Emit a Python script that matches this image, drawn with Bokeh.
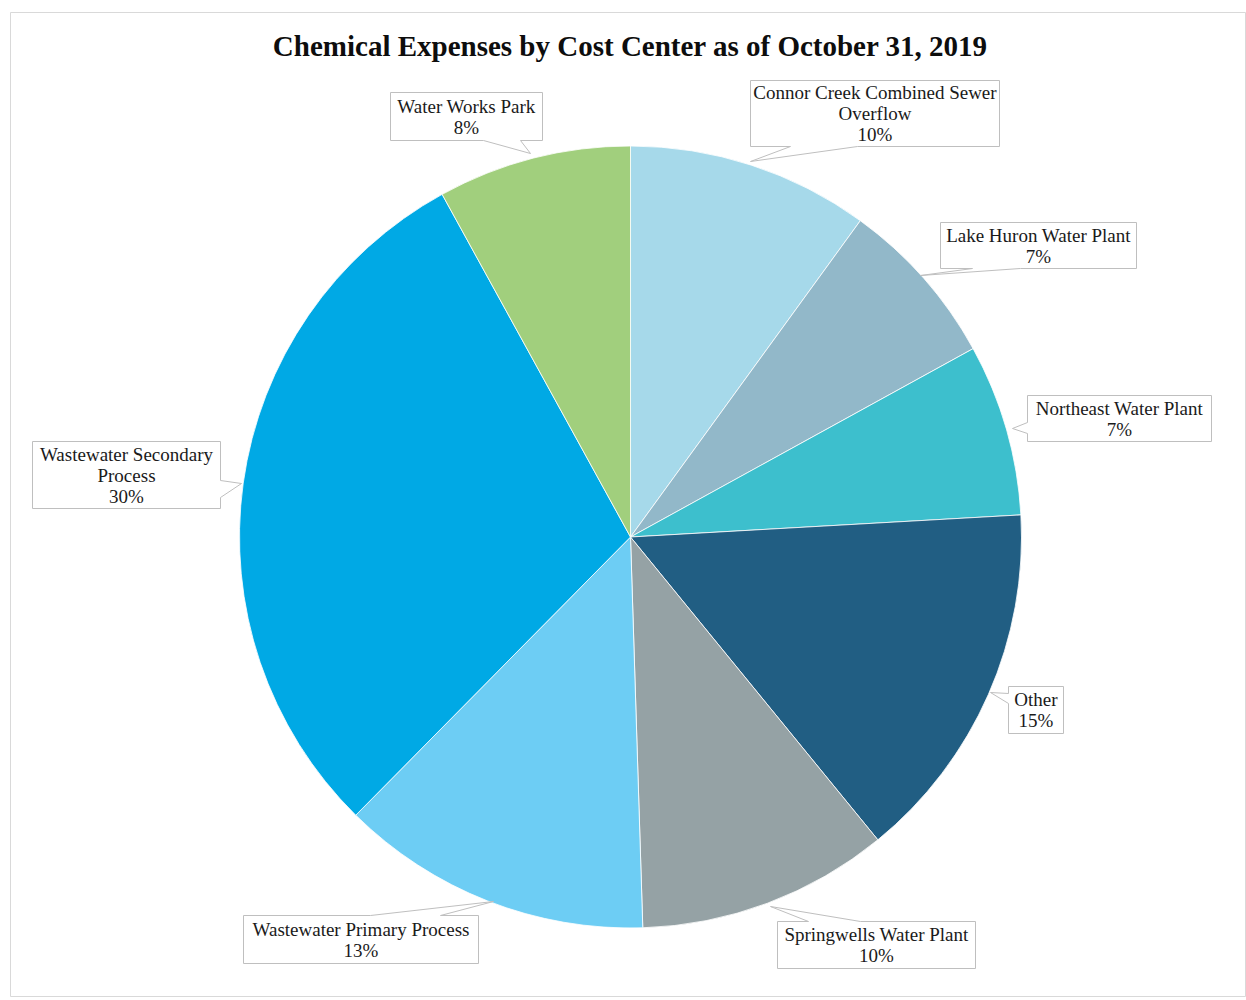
import math
from bokeh.plotting import figure
from bokeh.models import Range1d, ColumnDataSource
from bokeh.core.properties import value
from bokeh.embed import file_html
from bokeh.resources import INLINE

# ---- data ----
categories = [
    "Connor Creek Combined Sewer\nOverflow",
    "Lake Huron Water Plant",
    "Northeast Water Plant",
    "Other",
    "Springwells Water Plant",
    "Wastewater Primary Process",
    "Wastewater Secondary\nProcess",
    "Water Works Park",
]
shares = [10.0, 7.0, 7.1, 15.0, 10.4, 12.9, 29.6, 8.0]
colors = ["#a6d9ea", "#92b8c9", "#3dbfcd", "#215e83", "#95a2a5", "#6dcdf4", "#00a9e5", "#a1cf7d"]
title_text = "Chemical Expenses by Cost Center as of October 31, 2019"

# ---- layout (screen pixels, y downwards) ----
W, H = 1246, 1000
CX, CY, R = 630, 536.5, 391
# callout boxes: (left, top, right, bottom, side, base1, base2, tip)
callouts = [
    (750, 80, 999, 146, "bottom", 790, 857, (750, 161)),
    (940, 222, 1136, 268, "bottom", 972, 1020, (920, 275)),
    (1027, 395, 1211, 441, "left", 422, 433, (1012, 428)),
    (1008, 686, 1063, 733, "left", 693, 703, (990, 692)),
    (777, 921, 975, 968, "top", 808, 860, (770, 906)),
    (243, 915, 478, 963, "top", 370, 440, (493, 901)),
    (32, 441, 220, 508, "right", 480, 497, (241, 483)),
    (390, 92, 542, 140, "bottom", 483, 520, (530, 153)),
]

def fy(y):
    return H - y

p = figure(width=W, height=H, x_range=Range1d(0, W), y_range=Range1d(0, H),
           toolbar_location=None, output_backend="svg",
           x_axis_location=None, y_axis_location=None, min_border=0)
p.grid.visible = False
p.outline_line_color = None
p.background_fill_color = "white"
p.border_fill_color = "white"

# chart frame
p.patch(x=[10, 1245, 1245, 10], y=[fy(12), fy(12), fy(996), fy(996)],
        fill_color=None, line_color="#d9d9d9", line_width=1)

# wedges (clockwise from 12 o'clock)
total = sum(shares)
cum = [0.0]
for s in shares:
    cum.append(cum[-1] + s / total)
starts = [math.pi / 2 - 2 * math.pi * cum[i + 1] for i in range(len(shares))]
ends = [math.pi / 2 - 2 * math.pi * cum[i] for i in range(len(shares))]
src = ColumnDataSource(dict(start=starts, end=ends, color=colors))
p.wedge(x=CX, y=fy(CY), radius=R, start_angle="start", end_angle="end",
        direction="anticlock", fill_color="color", line_color="white",
        line_width=0.8, source=src)

# callouts
xs, ys = [], []
tx_, ty_, tt_ = [], [], []
for cat, sh, (l, t, r, b, side, a1, a2, tip) in zip(categories, shares, callouts):
    tx, ty = tip
    if side == "bottom":
        pts = [(l, t), (r, t), (r, b), (a2, b), (tx, ty), (a1, b), (l, b)]
    elif side == "top":
        pts = [(l, t), (a1, t), (tx, ty), (a2, t), (r, t), (r, b), (l, b)]
    elif side == "left":
        pts = [(l, t), (r, t), (r, b), (l, b), (l, a2), (tx, ty), (l, a1)]
    else:
        pts = [(l, t), (r, t), (r, a1), (tx, ty), (r, a2), (r, b), (l, b)]
    xs.append([q[0] for q in pts])
    ys.append([fy(q[1]) for q in pts])
    lines = cat.split("\n") + [f"{round(sh)}%"]
    n = len(lines)
    mx, my = (l + r) / 2, (t + b) / 2
    for i, ln in enumerate(lines):
        tx_.append(mx)
        ty_.append(fy(my + (i - (n - 1) / 2) * 21))
        tt_.append(ln)

p.patches(xs=xs, ys=ys, fill_color="white", line_color="#bfbfbf", line_width=1)
p.text(x=tx_, y=ty_, text=tt_, text_align="center", text_baseline="middle",
       text_font=value("Liberation Serif"), text_font_size="19px", text_color="#1a1a1a")

# title
p.text(x=[630], y=[fy(45)], text=[title_text], text_align="center", text_baseline="middle",
       text_font=value("Liberation Serif"), text_font_size="29px", text_font_style="bold",
       text_color="#0d0d0d")

open("out.html", "w").write(file_html(p, INLINE))
